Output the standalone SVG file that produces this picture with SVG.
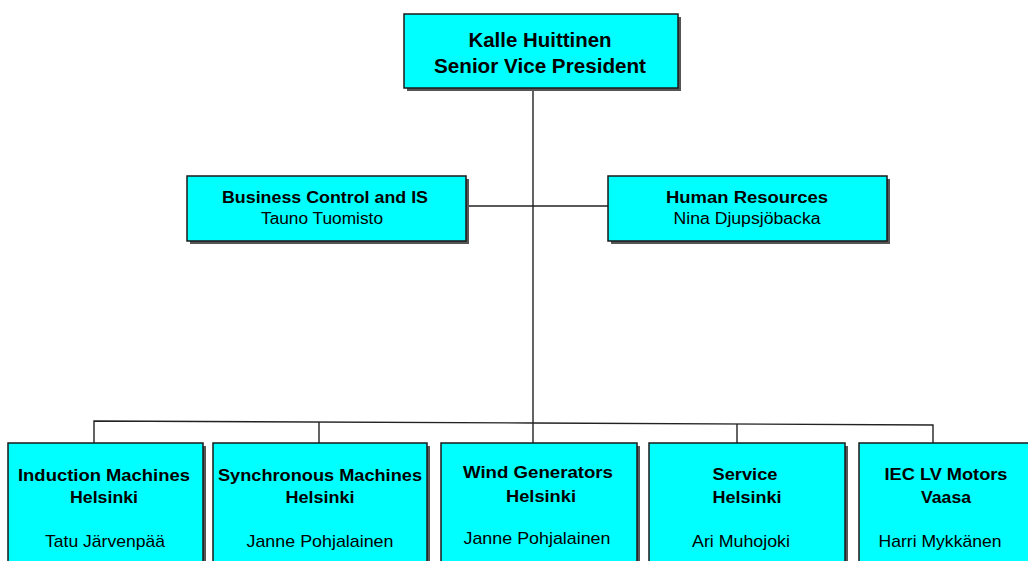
<svg xmlns="http://www.w3.org/2000/svg" width="1028" height="561" viewBox="0 0 1028 561">
<style>
.box{fill:#00FFFF;stroke:#1a1a1a;stroke-width:1.5}
.sh{fill:#555555}
.ln{stroke:#222222;stroke-width:1.4;fill:none}
text{font-family:"Liberation Sans",Arial,sans-serif;fill:#000;text-anchor:middle}
.b{font-weight:bold}
.t20{font-size:20px}
.t16{font-size:16px}
.t17{font-size:17px}
</style>
<rect x="0" y="0" width="1028" height="561" fill="#ffffff"/>
<g id="connectors">
<line class="ln" x1="533" y1="88" x2="533" y2="443"/>
<line class="ln" x1="466" y1="206" x2="608" y2="206"/>
<polyline class="ln" points="94,443 94,421 533,423 933,425 933,443"/>
<line class="ln" x1="319" y1="422" x2="319" y2="443"/>
<line class="ln" x1="737" y1="424" x2="737" y2="443"/>
</g>
<g id="n-top">
<rect class="sh" x="407" y="17" width="274" height="74"/>
<rect class="box" x="404" y="14" width="274" height="74"/>
<text class="b t20" x="540" y="47" textLength="143" lengthAdjust="spacingAndGlyphs">Kalle Huittinen</text>
<text class="b t20" x="540" y="73" textLength="212" lengthAdjust="spacingAndGlyphs">Senior Vice President</text>
</g>
<g id="n-bc">
<rect class="sh" x="190" y="179" width="279" height="65"/>
<rect class="box" x="187" y="176" width="279" height="65"/>
<text class="b t16" x="325" y="203" textLength="206" lengthAdjust="spacingAndGlyphs">Business Control and IS</text>
<text class="t16" x="322" y="224" textLength="122" lengthAdjust="spacingAndGlyphs">Tauno Tuomisto</text>
</g>
<g id="n-hr">
<rect class="sh" x="611" y="179" width="279" height="65"/>
<rect class="box" x="608" y="176" width="279" height="65"/>
<text class="b t16" x="747" y="203" textLength="162" lengthAdjust="spacingAndGlyphs">Human Resources</text>
<text class="t16" x="747" y="224" textLength="147" lengthAdjust="spacingAndGlyphs">Nina Djupsjöbacka</text>
</g>
<g id="n-ind">
<rect class="sh" x="11" y="446" width="195" height="130"/>
<rect class="box" x="8" y="443" width="195" height="130"/>
<text class="b t17" x="104" y="481" textLength="172" lengthAdjust="spacingAndGlyphs">Induction Machines</text>
<text class="b t17" x="104" y="503" textLength="68" lengthAdjust="spacingAndGlyphs">Helsinki</text>
<text class="t17" x="105" y="547" textLength="120" lengthAdjust="spacingAndGlyphs">Tatu Järvenpää</text>
</g>
<g id="n-syn">
<rect class="sh" x="216" y="446" width="214" height="130"/>
<rect class="box" x="213" y="443" width="214" height="130"/>
<text class="b t17" x="320" y="481" textLength="204" lengthAdjust="spacingAndGlyphs">Synchronous Machines</text>
<text class="b t17" x="320" y="503" textLength="69" lengthAdjust="spacingAndGlyphs">Helsinki</text>
<text class="t17" x="320" y="547" textLength="147" lengthAdjust="spacingAndGlyphs">Janne Pohjalainen</text>
</g>
<g id="n-wind">
<rect class="sh" x="444" y="446" width="196" height="130"/>
<rect class="box" x="441" y="443" width="196" height="130"/>
<text class="b t17" x="538" y="478" textLength="150" lengthAdjust="spacingAndGlyphs">Wind Generators</text>
<text class="b t17" x="541" y="502" textLength="70" lengthAdjust="spacingAndGlyphs">Helsinki</text>
<text class="t17" x="537" y="544" textLength="147" lengthAdjust="spacingAndGlyphs">Janne Pohjalainen</text>
</g>
<g id="n-svc">
<rect class="sh" x="652" y="446" width="196" height="130"/>
<rect class="box" x="649" y="443" width="196" height="130"/>
<text class="b t17" x="745" y="480" textLength="65" lengthAdjust="spacingAndGlyphs">Service</text>
<text class="b t17" x="747" y="503" textLength="69" lengthAdjust="spacingAndGlyphs">Helsinki</text>
<text class="t17" x="741" y="547" textLength="98" lengthAdjust="spacingAndGlyphs">Ari Muhojoki</text>
</g>
<g id="n-iec">
<rect class="sh" x="862" y="446" width="196" height="130"/>
<rect class="box" x="859" y="443" width="196" height="130"/>
<text class="b t17" x="946" y="480" textLength="123" lengthAdjust="spacingAndGlyphs">IEC LV Motors</text>
<text class="b t17" x="946" y="503" textLength="50" lengthAdjust="spacingAndGlyphs">Vaasa</text>
<text class="t17" x="940" y="547" textLength="123" lengthAdjust="spacingAndGlyphs">Harri Mykkänen</text>
</g>
</svg>
